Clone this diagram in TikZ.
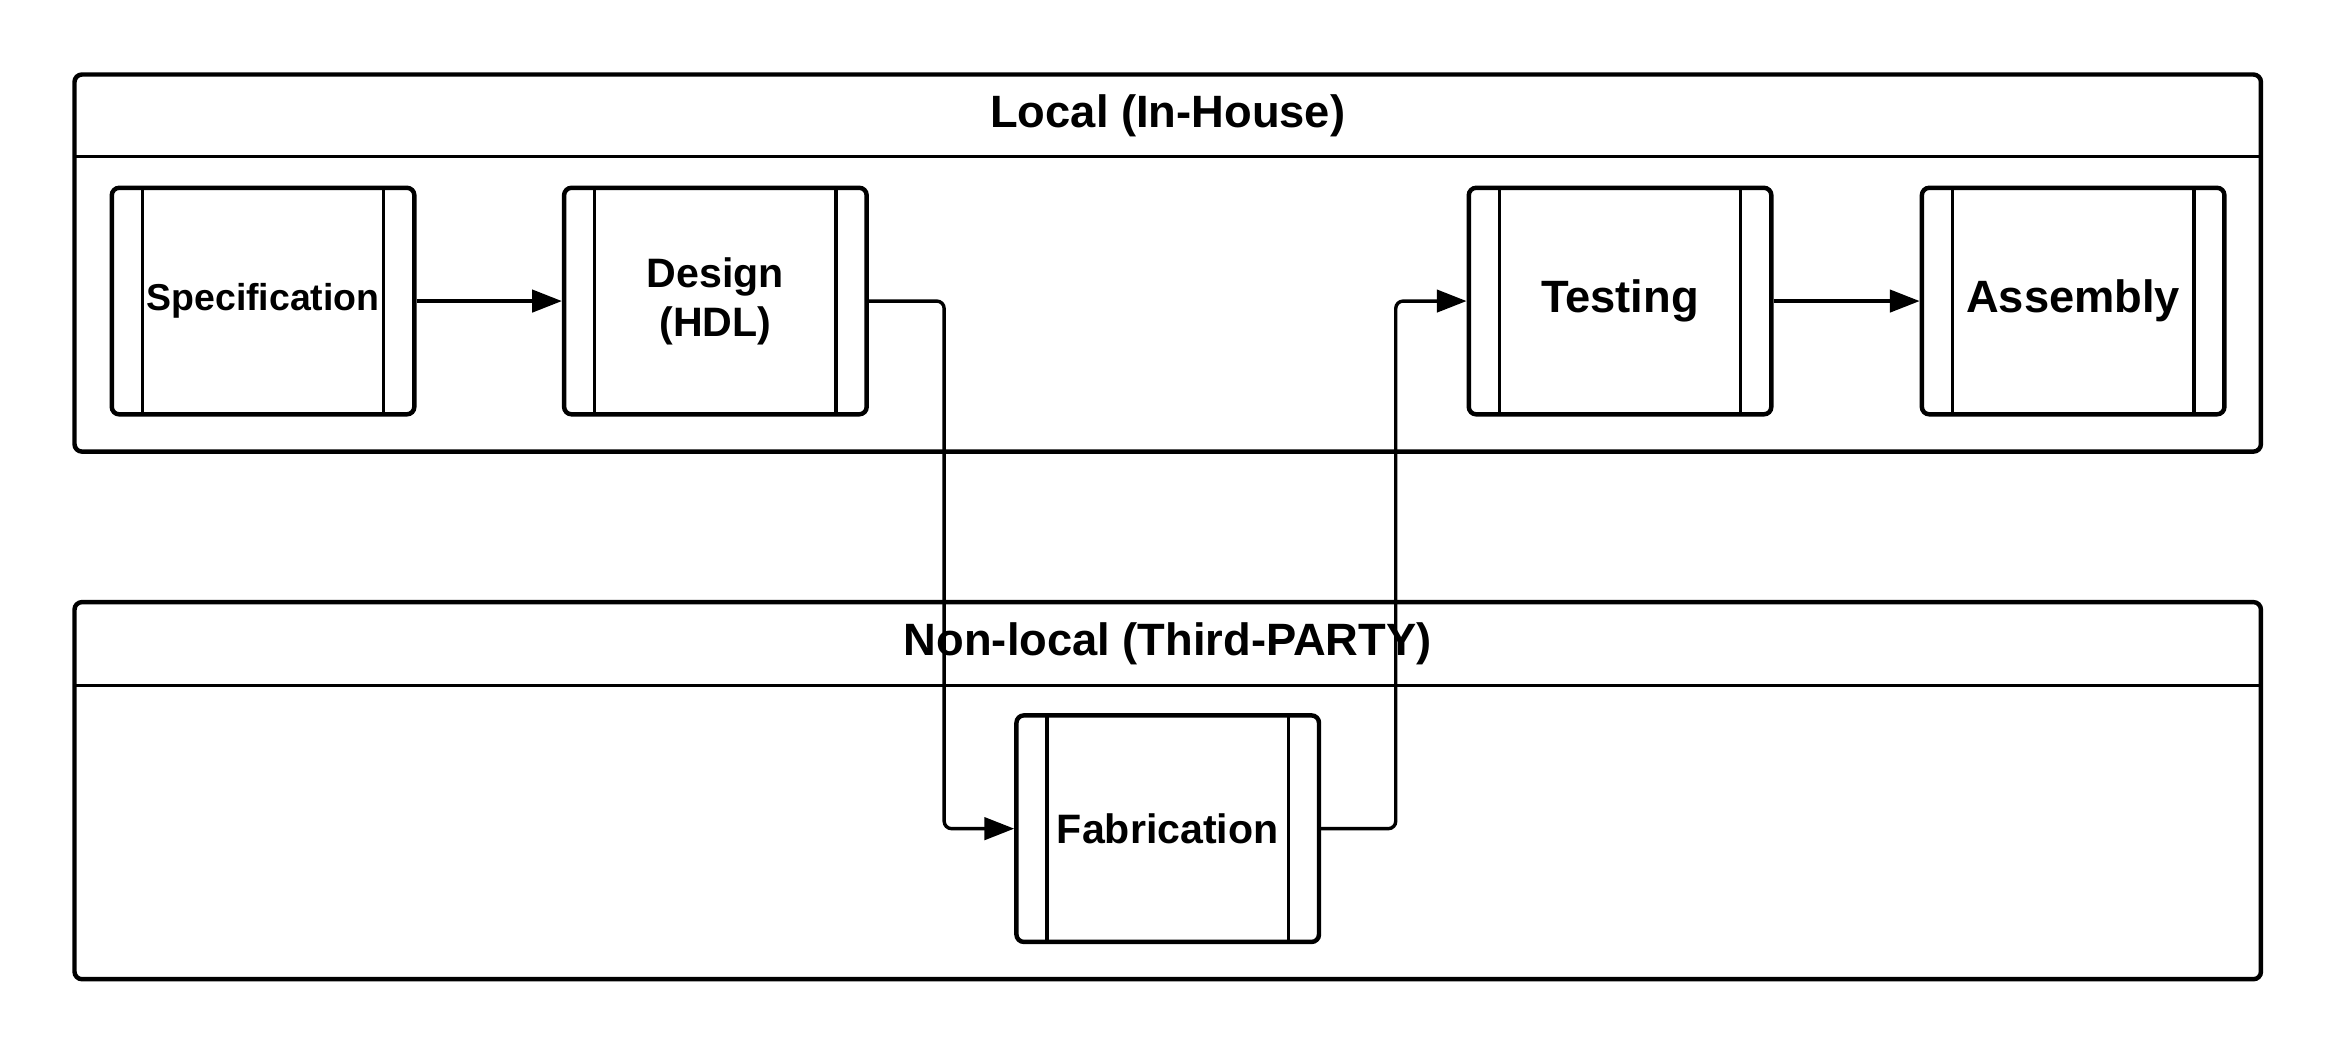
\documentclass[tikz,border=0pt]{standalone}
\usepackage{fontspec}
\setmainfont{Liberation Sans}
\usetikzlibrary{arrows.meta}

\tikzset{
  lane/.style={draw, line width=1.7pt, rounded corners=0.1cm},
  lanehead/.style={line width=1.3pt},
  lanetitle/.style={font=\fontsize{17.3}{20}\selectfont\bfseries},
  proc/.style={draw, line width=1.7pt, rounded corners=0.1cm, fill=white,
    minimum width=4.06cm, minimum height=3.04cm, inner sep=0pt, align=center,
    path picture={
      \draw[line width=1.3pt] ([xshift=0.41cm]path picture bounding box.north west)
        -- ([xshift=0.41cm]path picture bounding box.south west);
      \draw[line width=1.3pt] ([xshift=-0.41cm]path picture bounding box.north east)
        -- ([xshift=-0.41cm]path picture bounding box.south east);
    }},
  flow/.style={line width=1.3pt, rounded corners=0.1cm,
    -{Triangle[length=0.4cm, width=0.3cm]}}
}

\begin{document}
\begin{tikzpicture}
    \useasboundingbox (0,0) rectangle (31.2,14.1);

    % Local lane
    \draw[lane] (1.0,8.04) rectangle (30.34,13.1);
    \draw[lanehead] (1.0,12.0) -- (30.34,12.0);
    \node[lanetitle] (localtitle) at (15.67,12.55) {Local (In-House)};

    % Non-local lane
    \draw[lane] (1.0,0.96) rectangle (30.34,6.02);
    \draw[lanehead] (1.0,4.9) -- (30.34,4.9);
    \node[lanetitle] (remotetitle) at (15.67,5.46) {Non-local (Third-PARTY)};

    % Steps
    \node[proc, font=\fontsize{14.3}{17}\selectfont\bfseries] (spec) at (3.53,10.06) {Specification};
    \node[proc, font=\fontsize{15.7}{18.7}\selectfont\bfseries] (design) at (9.6,10.06) {Design\\(HDL)};
    \node[proc, font=\fontsize{17.3}{20}\selectfont\bfseries] (test) at (21.74,10.06) {Testing};
    \node[proc, font=\fontsize{17.3}{20}\selectfont\bfseries] (assembly) at (27.82,10.06) {Assembly};
    \node[proc, font=\fontsize{15.7}{18.7}\selectfont\bfseries] (fab) at (15.67,2.98) {Fabrication};

    % Flow
    \draw[flow] (spec) -- (design);
    \draw[flow] (design.east) -- ++(1.01,0) |- (fab.west);
    \draw[flow] (fab.east) -- ++(1.0,0) |- (test.west);
    \draw[flow] (test) -- (assembly);
\end{tikzpicture}
\end{document}
